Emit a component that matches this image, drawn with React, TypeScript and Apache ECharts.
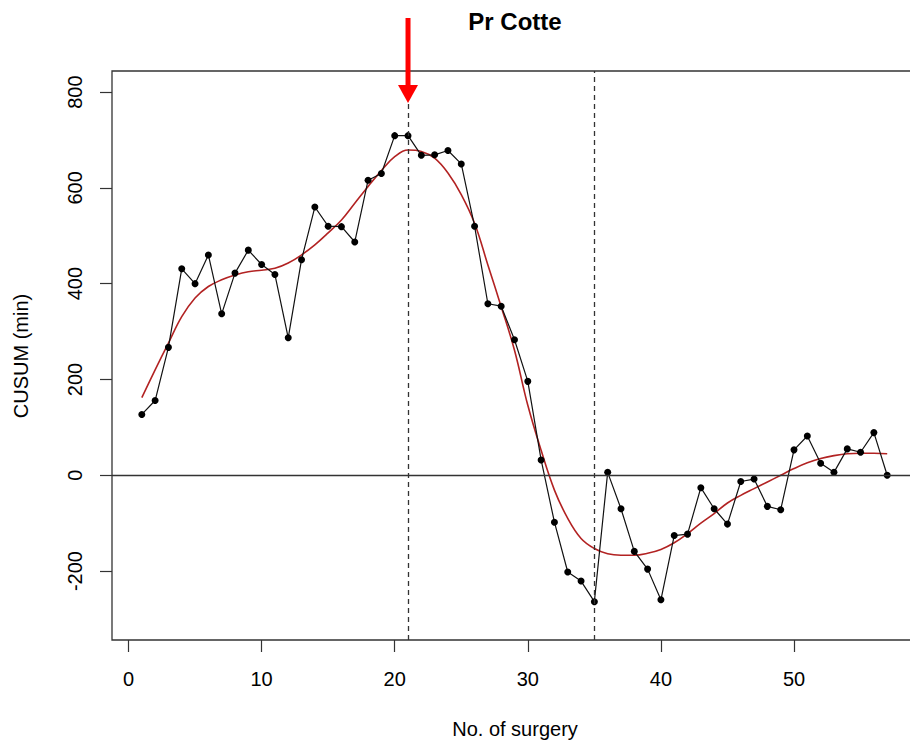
import React, { useEffect, useRef } from "react";
import * as echarts from "echarts";

// CUSUM (min) per surgery number 1..57
const cusum = [
  127, 156, 267, 431, 400, 460, 337, 422, 470, 440,
  419, 287, 450, 560, 520, 519, 487, 616, 630, 709,
  709, 668, 669, 678, 650, 520, 358, 353, 283, 196,
  32, -98, -202, -221, -264, 6, -70, -159, -196, -260,
  -126, -123, -26, -70, -102, -13, -8, -65, -72, 53,
  82, 25, 6, 55, 48, 89, 0,
];

// smoothed (loess-like) fit
const smooth = [
  162, 220, 276, 331, 370, 394, 408, 418, 425, 428,
  432, 443, 460, 481, 506, 533, 568, 603, 636, 665,
  679, 676, 662, 631, 586, 526, 439, 352, 261, 146,
  52, -31, -90, -132, -153, -164, -167, -167, -163, -155,
  -141, -122, -100, -80, -58, -42, -28, -14, 0, 14,
  26, 35, 41, 45, 46, 46, 45,
];

const xTicks = [0, 10, 20, 30, 40, 50];
const yTicks = [-200, 0, 200, 400, 600, 800];
const vLines = [21, 35];
const hLines = [0];
const arrowAt = 21;

const titleText = "Pr Cotte";
const xName = "No. of surgery";
const yName = "CUSUM (min)";

const FONT = "'Liberation Sans', Arial, Helvetica, sans-serif";

export default function App() {
  const ref = useRef<HTMLDivElement>(null);

  useEffect(() => {
    if (!ref.current) return;
    const chart = echarts.init(ref.current, undefined, { renderer: "svg" });

    const pts = cusum.map((v, i) => [i + 1, v]);
    const fit = smooth.map((v, i) => [i + 1, v]);

    const option: any = {
      animation: false,
      backgroundColor: "#ffffff",
      grid: {
        left: 112,
        top: 71,
        right: 0,
        bottom: 104,
        show: true,
        borderColor: "#333333",
        borderWidth: 1.3,
        backgroundColor: "transparent",
      },
      xAxis: {
        type: "value",
        min: -1.24,
        max: 59.24,
        axisLine: { show: false, onZero: false },
        splitLine: { show: false },
        axisTick: {
          show: true,
          length: 12,
          customValues: xTicks,
          lineStyle: { color: "#333333", width: 1.2 },
        },
        axisLabel: {
          customValues: xTicks,
          margin: 29,
          fontSize: 20,
          fontFamily: FONT,
          color: "#000000",
        },
      },
      yAxis: {
        type: "value",
        min: -344,
        max: 844,
        axisLine: { show: false, onZero: false },
        splitLine: { show: false },
        axisTick: {
          show: true,
          length: 12,
          customValues: yTicks,
          lineStyle: { color: "#333333", width: 1.2 },
        },
        axisLabel: {
          customValues: yTicks,
          rotate: 90,
          margin: 27,
          fontSize: 20,
          fontFamily: FONT,
          color: "#000000",
        },
      },
      series: [
        {
          type: "line",
          data: pts,
          symbol: "circle",
          symbolSize: 7,
          itemStyle: { color: "#000000" },
          lineStyle: { color: "#111111", width: 1.2 },
          z: 3,
          markLine: {
            silent: true,
            symbol: "none",
            label: { show: false },
            data: [
              ...vLines.map((v) => ({
                xAxis: v,
                lineStyle: { type: [5, 4], color: "#333333", width: 1.3 },
              })),
              ...hLines.map((v) => ({
                yAxis: v,
                lineStyle: { type: "solid", color: "#333333", width: 1.3 },
              })),
            ],
          },
        },
        {
          type: "line",
          data: fit,
          symbol: "none",
          smooth: 0.4,
          lineStyle: { color: "#b22222", width: 1.6 },
          z: 2,
        },
      ],
    };

    chart.setOption(option);

    const ax = chart.convertToPixel({ xAxisIndex: 0 }, arrowAt) as number;

    chart.setOption({
      graphic: [
        {
          type: "text",
          x: 515,
          y: 21,
          style: {
            text: titleText,
            font: `bold 24px ${FONT}`,
            fill: "#000000",
            textAlign: "center",
            textVerticalAlign: "middle",
          },
        },
        {
          type: "text",
          x: 515,
          y: 729,
          style: {
            text: xName,
            font: `20px ${FONT}`,
            fill: "#000000",
            textAlign: "center",
            textVerticalAlign: "middle",
          },
        },
        {
          type: "text",
          x: 21,
          y: 356,
          rotation: Math.PI / 2,
          style: {
            text: yName,
            font: `20px ${FONT}`,
            fill: "#000000",
            textAlign: "center",
            textVerticalAlign: "middle",
          },
        },
        {
          type: "rect",
          shape: { x: ax - 2.5, y: 18, width: 5, height: 68 },
          style: { fill: "#ff0000" },
          z: 10,
        },
        {
          type: "polygon",
          shape: {
            points: [
              [ax - 10, 85],
              [ax + 10, 85],
              [ax, 103],
            ],
          },
          style: { fill: "#ff0000" },
          z: 10,
        },
      ],
    });

    return () => {
      chart.dispose();
    };
  }, []);

  return (
    <div
      style={{
        position: "fixed",
        left: 0,
        top: 0,
        width: 910,
        height: 744,
        overflow: "hidden",
        background: "#fff",
      }}
    >
      <div ref={ref} style={{ width: 917, height: 744 }} />
    </div>
  );
}
